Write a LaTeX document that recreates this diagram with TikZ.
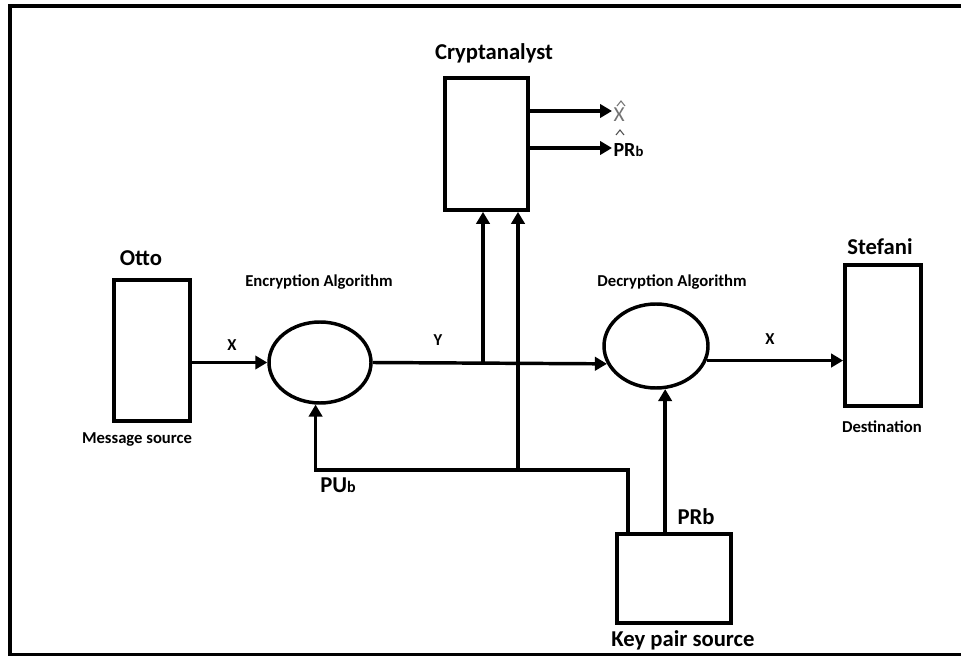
\documentclass[tikz,border=0pt]{standalone}
\usepackage{fontspec}
\setmainfont{Carlito}
\usetikzlibrary{arrows.meta,shapes.geometric,positioning,calc}

\begin{document}
\begin{tikzpicture}[x=0.75pt, y=-0.75pt,
    box/.style={draw, line width=2.8pt, inner sep=0pt},
    algo/.style={draw, ellipse, line width=2.6pt, inner sep=0pt},
    arr/.style={line width=2.6pt, -{Triangle[length=9pt, width=10pt]}},
    caret/.style={line width=0.8pt, line join=miter},
    big/.style={font=\fontsize{17}{19}\selectfont\bfseries},
    small/.style={font=\fontsize{12.5}{14}\selectfont\bfseries}]
  \useasboundingbox (0,0) rectangle (961,656);
  % frame
  \draw[line width=3pt] (961,6) -- (10,6) -- (10,655) -- (961,655);
  % boxes and algorithms
  \node[box, minimum width=57pt, minimum height=105.75pt] (otto) at (152,350.5) {};
  \node[box, minimum width=62.25pt, minimum height=99pt] (crypt) at (486.5,144) {};
  \node[box, minimum width=57pt, minimum height=105.75pt] (stefani) at (883,335.5) {};
  \node[box, minimum width=85.5pt, minimum height=66.75pt] (key) at (674,578.5) {};
  \node[algo, minimum width=76.5pt, minimum height=60.75pt] (enc) at (320,362.5) {};
  \node[algo, minimum width=78pt, minimum height=63pt] (dec) at (656,346) {};
  % labels
  \node[big] (cryptlbl) at (494,53) {Cryptanalyst};
  \node[big] (ottolbl) at (141,258) {Otto};
  \node[big] (stefanilbl) at (880,247) {Stefani};
  \node[small] (srclbl) at (137,440) {Message source};
  \node[small] (destlbl) at (882,427) {Destination};
  \node[small] (enclbl) at (319,282) {Encryption Algorithm};
  \node[small] (declbl) at (672,282) {Decryption Algorithm};
  \node[small] (xin) at (232,345) {X};
  \node[small] (ylbl) at (438,340) {Y};
  \node[small] (xout) at (770,339) {X};
  \node[big] (pulbl) at (338,485) {PU{\fontsize{12}{14}\selectfont b}};
  \node[big] (prlbl) at (696,517) {PRb};
  \node[big] (keylbl) at (683,640) {Key pair source};
  % estimates
  \node[anchor=west, inner sep=1pt, text=black!55, font=\fontsize{16}{18}\selectfont] (xhat) at (612,115) {X};
  \node[anchor=west, inner sep=1pt, font=\fontsize{15}{17}\selectfont\bfseries] (prhat) at (612,150) {PR{\fontsize{11}{13}\selectfont b}};
  \draw[caret, black!55] (617,106) -- (621,101) -- (625,106);
  \draw[caret, black!70] (616,135) -- (620,130) -- (624,135);
  % taps
  \coordinate (tapy) at (483,362.5);
  \coordinate (pujoin) at (518,470);
  \coordinate (kpu) at (628,534);
  % connectors
  \draw[arr] (otto.east |- enc.west) -- (enc.west);
  \draw[arr] (enc.east) -- (dec.200);
  \draw[arr] (dec.-16) -- (dec.-16 -| stefani.west);
  \draw[arr] (tapy) -- (tapy |- crypt.south);
  \draw[arr] (kpu) |- (enc.-96 |- pujoin) -- (enc.-96);
  \draw[arr] (pujoin) -- (pujoin |- crypt.south);
  \draw[arr] (key.north -| dec.-78) -- (dec.-78);
  \draw[arr] (crypt.east |- 0,111) -- (xhat.west |- 0,111);
  \draw[arr] (crypt.east |- 0,148) -- (prhat.west |- 0,148);
\end{tikzpicture}
\end{document}
